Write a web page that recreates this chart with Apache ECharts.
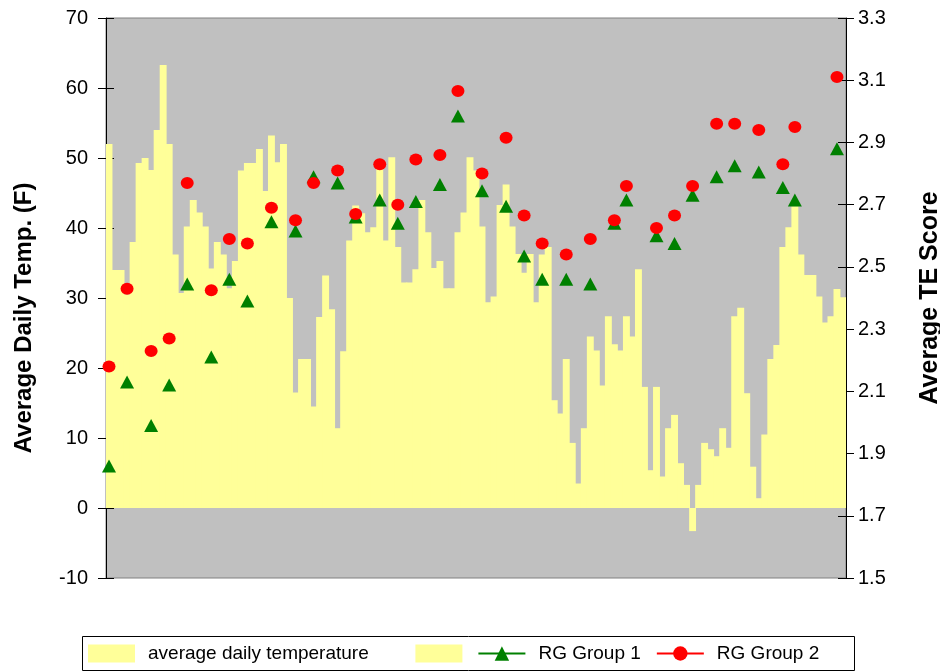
<!DOCTYPE html>
<html>
<head>
<meta charset="utf-8">
<script src="https://cdn.jsdelivr.net/npm/echarts@6/dist/echarts.min.js"></script>
<style>
  html, body { margin: 0; padding: 0; background: #fff; }
  #main { width: 940px; height: 671px; }
</style>
</head>
<body>
<div id="main"></div>
<script>
// average daily temperature (F), one bar per day
var avgTemp = [
  52, 34, 34, 30.5, 38, 49.3, 50, 48.3, 54, 63.3,
  52, 36.2, 30.7, 40.2, 44, 42.2, 40.2, 34.2, 38, 36.2,
  31.4, 35.3, 48.2, 49.3, 49.3, 51.3, 45.3, 53.2, 49.4, 52,
  30, 16.5, 21.3, 21.3, 14.5, 27.3, 33.2, 28.4, 11.4, 22.4,
  38.2, 43.2, 42.1, 39.4, 40.1, 48.8, 38.2, 50.1, 37.3, 32.2,
  32.2, 34.1, 44, 39.4, 34.3, 35.3, 31.4, 31.4, 39.4, 42.2,
  50.1, 48.2, 40.2, 29.4, 30.2, 43.3, 46.2, 40.2, 36.3, 33.6,
  36.3, 29.4, 36.2, 37.3, 15.4, 13.5, 21.3, 9.3, 3.5, 11.4,
  24.5, 22.5, 17.5, 27.4, 23.4, 22.5, 27.4, 24.5, 34.1, 17.3,
  5.4, 17.3, 4.5, 11.4, 13.3, 6.4, 3.3, -3.3, 3.3, 9.3,
  8.4, 7.4, 11.4, 8.6, 27.4, 28.6, 16.4, 5.9, 1.4, 10.5,
  21.3, 23.3, 37.3, 40.1, 43.1, 36.2, 33.3, 33.3, 30.2, 26.5,
  27.4, 31.3, 30.1
];

// days on which the TE score was taken
var rgDays = [1, 4, 8, 11, 14, 18, 21, 24, 28, 32, 35, 39, 42, 46, 49, 52, 56, 59, 63, 67,
  70, 73, 77, 81, 85, 87, 92, 95, 98, 102, 105, 109, 113, 115, 122];

var rgGroup1 = [1.86, 2.13, 1.99, 2.12, 2.445, 2.21, 2.46, 2.39, 2.645, 2.615,
  2.79, 2.77, 2.66, 2.715, 2.64, 2.71, 2.765, 2.985, 2.745, 2.695,
  2.535, 2.46, 2.46, 2.445, 2.64, 2.715, 2.6, 2.575, 2.73, 2.79,
  2.825, 2.805, 2.755, 2.715, 2.88];

var rgGroup2 = [2.18, 2.43, 2.23, 2.27, 2.77, 2.425, 2.59, 2.575, 2.69, 2.65,
  2.77, 2.81, 2.67, 2.83, 2.7, 2.845, 2.86, 3.065, 2.8, 2.915,
  2.665, 2.575, 2.54, 2.59, 2.65, 2.76, 2.625, 2.665, 2.76, 2.96,
  2.96, 2.94, 2.83, 2.95, 3.11];

var teTicks = [1.5, 1.7, 1.9, 2.1, 2.3, 2.5, 2.7, 2.9, 3.1, 3.3];

var days = [];
for (var i = 1; i <= avgTemp.length; i++) days.push(String(i));

// x is the category index of the day
function pairs(vals) {
  return rgDays.map(function (d, k) { return [d - 1, vals[k]]; });
}

var font = '"Liberation Sans", Arial, sans-serif';

var chart = echarts.init(document.getElementById('main'));
var option = {
  animation: false,
  backgroundColor: '#fff',
  textStyle: { fontFamily: font },
  grid: {
    left: 106, right: 94, top: 18, bottom: 93,
    show: true,
    backgroundColor: '#C0C0C0',
    borderColor: '#808080',
    borderWidth: 1,
    outerBoundsMode: 'none'
  },
  graphic: [
    {
      type: 'rect',
      shape: { x: 82.5, y: 636.5, width: 772, height: 34 },
      style: { fill: 'none', stroke: '#000', lineWidth: 1 },
      silent: true
    }
  ],
  legend: {
    left: 88, top: 644,
    itemWidth: 47, itemHeight: 18, itemGap: 15,
    padding: 0,
    textStyle: { fontFamily: font, fontSize: 19, color: '#000', padding: [0, 0, 0, 8] },
    formatter: function (name) {
      if (name === 'blank') return '';
      // the first entry has extra room after it
      if (name === 'average daily temperature') return name + '\u00a0\u00a0\u00a0\u00a0\u00a0\u00a0';
      return name;
    },
    data: [
      { name: 'average daily temperature', icon: 'rect' },
      { name: 'blank', icon: 'rect' },
      { name: 'RG Group 1', lineStyle: { opacity: 1, width: 2 } },
      { name: 'RG Group 2', lineStyle: { opacity: 1, width: 2 } }
    ]
  },
  xAxis: {
    type: 'category',
    data: days,
    boundaryGap: true,
    show: false
  },
  yAxis: [
    {
      type: 'value', position: 'left',
      min: -10, max: 70, interval: 10,
      name: 'Average Daily Temp. (F)',
      nameLocation: 'middle', nameRotate: 90, nameGap: 70,
      nameTextStyle: { fontFamily: font, fontSize: 24, fontWeight: 'bold', color: '#000', padding: [0, 40, 0, 0] },
      axisLine: { show: true, lineStyle: { color: '#000', width: 1 } },
      axisTick: { show: true, length: 8, lineStyle: { color: '#000' } },
      axisLabel: { fontFamily: font, fontSize: 20, color: '#000', margin: 18 },
      splitLine: { show: false }
    },
    {
      type: 'value', position: 'right',
      min: 1.5, max: 3.3,
      name: 'Average TE Score',
      nameLocation: 'middle', nameRotate: 90, nameGap: 72,
      nameTextStyle: { fontFamily: font, fontSize: 25, fontWeight: 'bold', color: '#000' },
      axisLine: { show: true, lineStyle: { color: '#000', width: 1 } },
      axisTick: { show: true, length: 8, customValues: teTicks, lineStyle: { color: '#000' } },
      axisLabel: {
        fontFamily: font, fontSize: 20, color: '#000', margin: 12,
        customValues: teTicks,
        formatter: function (v) { return v.toFixed(1); }
      },
      splitLine: { show: false }
    },
    {
      // inner half of the crossing ticks, left
      type: 'value', position: 'left',
      min: -10, max: 70, interval: 10,
      axisLine: { show: false },
      axisTick: { show: true, inside: true, length: 8, lineStyle: { color: '#000' } },
      axisLabel: { show: false },
      splitLine: { show: false }
    },
    {
      // inner half of the crossing ticks, right
      type: 'value', position: 'right',
      min: 1.5, max: 3.3,
      axisLine: { show: false },
      axisTick: { show: true, inside: true, length: 8, customValues: teTicks, lineStyle: { color: '#000' } },
      axisLabel: { show: false },
      splitLine: { show: false }
    }
  ],
  series: [
    {
      name: 'average daily temperature',
      type: 'bar',
      stack: 'temp',
      yAxisIndex: 0,
      barWidth: '115%',
      itemStyle: { color: '#FFFF99' },
      silent: true,
      data: avgTemp
    },
    {
      name: 'blank',
      type: 'bar',
      stack: 'temp',
      yAxisIndex: 0,
      itemStyle: { color: '#FFFF99' },
      data: []
    },
    {
      name: 'RG Group 1',
      type: 'line',
      yAxisIndex: 1,
      symbol: 'triangle',
      symbolSize: [14, 13],
      showAllSymbol: true,
      itemStyle: { color: '#008000' },
      lineStyle: { color: '#008000', opacity: 0 },
      z: 3,
      data: pairs(rgGroup1)
    },
    {
      name: 'RG Group 2',
      type: 'line',
      yAxisIndex: 1,
      symbol: 'circle',
      symbolSize: [13, 12],
      showAllSymbol: true,
      itemStyle: { color: '#FF0000' },
      lineStyle: { color: '#FF0000', opacity: 0 },
      z: 4,
      data: pairs(rgGroup2)
    }
  ]
};
chart.setOption(option);
</script>
</body>
</html>
